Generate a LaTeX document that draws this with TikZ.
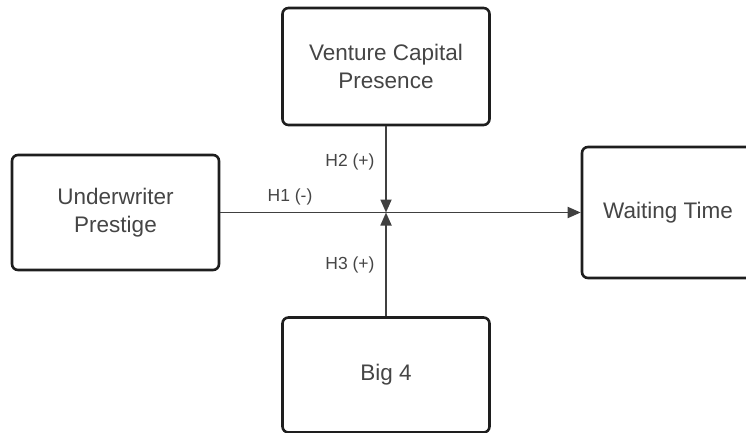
\documentclass[tikz,border=0pt]{standalone}
\usepackage{fontspec}
\setmainfont{Liberation Sans}
\usetikzlibrary{arrows.meta}
\definecolor{edge}{HTML}{1E1E1E}
\definecolor{txt}{HTML}{454545}
\begin{document}
\begin{tikzpicture}[x=1pt,y=-1pt]
  \tikzset{
    box/.style={draw=edge,line width=2.6pt,rounded corners=6pt,fill=white,
      text=txt,align=center,inner sep=0pt,
      font=\fontsize{22.5}{28}\selectfont},
    lbl/.style={text=txt,inner sep=0pt,font=\fontsize{17.5}{20}\selectfont},
    link/.style={draw=edge!85,line width=1.8pt,
      -{Triangle[length=13pt,width=11pt]}}
  }
  \useasboundingbox (0,0) rectangle (746,433);
  \node[box,minimum width=207pt,minimum height=115pt] (uw) at (115.5,212.5) {Underwriter\\Prestige};
  \node[box,minimum width=207pt,minimum height=117pt] (vc) at (386,66.5) {Venture Capital\\Presence};
  \node[box,minimum width=172pt,minimum height=131pt] (wt) at (668,212.5) {Waiting Time};
  \node[box,minimum width=207pt,minimum height=115pt] (b4) at (386,375) {Big 4};
  \coordinate (mid) at (386,212.5);
  % connectors
  \draw[link] (uw.east) -- (wt.west);
  \draw[link] (vc.south) -- (mid);
  \draw[link] (b4.north) -- (mid);
  % hypothesis labels
  \node[lbl] (h1) at (290,197) {H1 (-)};
  \node[lbl] (h2) at (350,162) {H2 (+)};
  \node[lbl] (h3) at (350,265) {H3 (+)};
\end{tikzpicture}
\end{document}
